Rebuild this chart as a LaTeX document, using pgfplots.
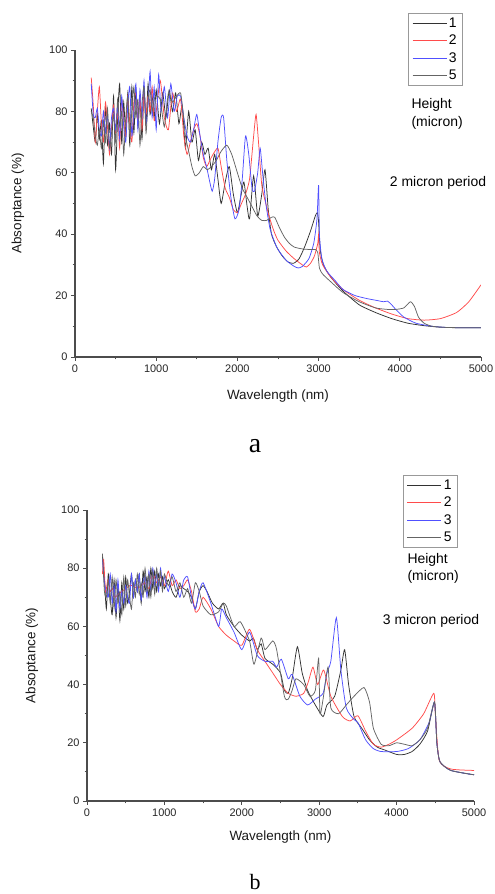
\documentclass[border=0pt]{standalone}
\usepackage{fontspec}
\setmainfont{Liberation Sans}
\newfontfamily\timesfont{Liberation Serif}
\usepackage{pgfplots}
\pgfplotsset{compat=1.18}

\definecolor{cone}{RGB}{50,50,50}
\definecolor{ctwo}{RGB}{255,75,75}
\definecolor{cthree}{RGB}{80,80,255}
\definecolor{cfive}{RGB}{100,100,100}

\pgfplotsset{
  curve/.style={draw=#1, line width=0.75bp, smooth, tension=0.35, no markers},
  panel/.style={
    scale only axis, axis lines*=left,
    xmin=0, xmax=5000, ymin=0, ymax=100,
    xtick={0,1000,...,5000}, ytick={0,20,...,100}, minor tick num=1,
    tick align=outside, major tick length=4bp, minor tick length=2.5bp,
    axis line style={black!70, line width=1.1bp},
    every tick/.style={black!70, line width=0.9bp},
    tick label style={font=\fontsize{11}{12}\selectfont, text=black!85},
    /pgf/number format/assume math mode=true,
    /pgf/number format/set thousands separator={},
    legend cell align=left,
    legend style={draw=black!40, line width=0.9bp, font=\fontsize{14}{16}\selectfont,
      inner xsep=4bp, inner ysep=2.5bp, row sep=2.2bp, anchor=north east},
    legend image code/.code={\draw[#1] (0bp,0bp) -- (34bp,0bp);},
  }
}

\begin{document}
\begin{tikzpicture}
\path[use as bounding box] (0,0) rectangle (495bp,894bp);

% ---------------- panel a ----------------
\begin{axis}[panel, at={(75bp,537bp)}, anchor=south west, width=406bp, height=307bp,
  xlabel={Wavelength (nm)}, ylabel={Absorptance (\%)},
  every axis x label/.style={at={(axis description cs:0.5,0)}, anchor=center, yshift=-39bp,
    font=\fontsize{13.5}{15}\selectfont, text=black!90},
  every axis y label/.style={at={(axis description cs:-0.1404,0.5)}, anchor=center, rotate=90,
    font=\fontsize{13.5}{15}\selectfont, text=black!90},
  legend style={at={(rel axis cs:0.956,1.1205)}}]
\addplot[curve=cone] coordinates {
(200,81) (225,75) (250,70) (275,79) (300,71) (325,77) (350,63) (375,82) (400,69) (425,76)
(450,66) (475,85) (500,61) (525,78) (550,89) (575,70) (600,83) (625,72) (650,86) (675,69)
(700,88) (725,73) (750,87) (775,75) (800,84) (825,71) (850,87) (875,76) (900,89) (925,79)
(950,85) (975,78) (1000,87) (1040,76) (1080,86) (1120,78) (1160,87) (1200,80) (1240,86) (1280,76)
(1320,82) (1360,68) (1400,80) (1440,70) (1480,74) (1520,64) (1560,70) (1600,66) (1640,68) (1680,61)
(1720,66) (1760,58) (1800,50) (1850,57) (1900,62) (1950,53) (2000,47) (2040,52) (2080,57) (2120,49)
(2150,45) (2200,59) (2250,46) (2300,53) (2340,61) (2380,48) (2420,40) (2480,36) (2550,33) (2620,31)
(2690,30.5) (2760,32) (2830,36) (2900,41) (2960,46) (2985,47) (3000,44) (3020,35) (3060,30) (3150,26)
(3300,21.5) (3500,17) (3700,14.5) (3900,12.5) (4100,11) (4300,10.2) (4500,9.7) (4750,9.5) (5000,9.5)};
\addlegendentry{1}
\addplot[curve=ctwo] coordinates {
(200,91) (225,82) (250,70) (275,80) (300,88) (325,76) (350,70) (375,83) (400,75) (425,66)
(450,75) (475,82) (500,73) (525,80) (550,68) (575,84) (600,77) (625,72) (650,85) (675,76)
(700,70) (725,83) (750,86) (775,76) (800,84) (825,74) (850,86) (875,79) (900,85) (925,80)
(950,88) (975,77) (1000,80) (1050,90) (1100,78) (1150,74) (1200,86) (1250,80) (1300,84) (1340,72)
(1380,66) (1420,70) (1460,74) (1500,76) (1540,72) (1580,65) (1620,62) (1660,64) (1700,66) (1760,68)
(1800,62) (1850,55) (1900,52) (1950,48) (2000,47) (2050,50) (2100,53) (2150,58) (2200,72) (2230,79)
(2260,70) (2300,56) (2350,50) (2400,45) (2450,41) (2500,38) (2600,34.5) (2700,32) (2800,30) (2850,29.3)
(2900,30.5) (2950,33) (2990,37) (3000,40) (3010,34) (3050,30) (3150,26) (3300,22) (3500,18.5) (3700,16)
(3900,14) (4100,12.5) (4300,12) (4500,12.5) (4700,14.5) (4850,18) (5000,23.5)};
\addlegendentry{2}
\addplot[curve=cthree] coordinates {
(200,89) (225,79) (250,78) (275,81) (300,74) (325,72) (350,80) (375,73) (400,79) (425,68)
(450,78) (475,81) (500,74) (525,82) (550,71) (575,85) (600,75) (625,70) (650,82) (675,88)
(700,72) (725,80) (750,89) (775,74) (800,87) (825,78) (850,90) (875,76) (900,82) (925,93)
(950,78) (975,88) (1000,74) (1030,92) (1060,80) (1100,88) (1140,78) (1180,89) (1220,80) (1260,85)
(1300,85) (1340,78) (1380,72) (1420,70) (1460,74) (1500,79) (1540,72) (1580,66) (1620,62) (1660,57)
(1690,54) (1720,58) (1760,70) (1800,78) (1830,78) (1870,64) (1920,52) (1970,45) (2020,48) (2060,58)
(2100,72) (2140,66) (2180,55) (2210,54) (2250,60) (2280,68) (2310,60) (2350,50) (2400,42) (2450,38)
(2500,35) (2600,31.5) (2700,29.5) (2750,29) (2800,29.5) (2880,32) (2940,37) (2980,45) (3000,56) (3010,40)
(3040,32) (3100,28) (3200,25) (3300,22) (3450,20) (3600,19) (3700,18.5) (3800,18) (3850,18.2) (3900,17)
(3950,15.5) (4050,13) (4200,11) (4400,10) (4600,9.6) (5000,9.5)};
\addlegendentry{3}
\addplot[curve=cfive] coordinates {
(200,80) (225,78) (250,72) (275,69) (300,74) (325,68) (350,77) (375,70) (400,81) (425,68)
(450,73) (475,79) (500,70) (525,84) (550,75) (575,80) (600,66) (625,78) (650,85) (675,72)
(700,80) (725,88) (750,78) (775,84) (800,69) (825,82) (850,88) (875,73) (900,84) (925,87)
(950,80) (975,84) (1000,85) (1050,84) (1100,75) (1150,86) (1200,83) (1250,85) (1300,86) (1330,80)
(1360,72) (1400,67) (1440,62) (1480,59) (1530,60) (1580,62) (1630,61) (1680,62) (1740,64) (1800,67)
(1870,69) (1930,66) (2000,60) (2060,55) (2120,52) (2180,49) (2240,46) (2300,44.5) (2360,44.5) (2420,45.5)
(2460,45.5) (2520,42) (2580,39) (2640,37) (2700,35.8) (2800,35.2) (2900,35) (2960,35) (2990,34) (3010,29)
(3050,27) (3150,24.5) (3300,21) (3500,18) (3700,16) (3850,15.5) (3950,15.5) (4050,16) (4130,18) (4180,16.5)
(4230,13) (4300,11) (4400,10) (4600,9.6) (5000,9.5)};
\addlegendentry{5}
\end{axis}

% ---------------- panel b ----------------
\begin{axis}[panel, at={(87bp,93bp)}, anchor=south west, width=387bp, height=291bp,
  xlabel={Wavelength (nm)}, ylabel={Absoptance (\%)},
  every axis x label/.style={at={(axis description cs:0.5,0)}, anchor=center, yshift=-36bp,
    font=\fontsize{13.5}{15}\selectfont, text=black!90},
  every axis y label/.style={at={(axis description cs:-0.1421,0.5)}, anchor=center, rotate=90,
    font=\fontsize{13.5}{15}\selectfont, text=black!90},
  legend style={at={(rel axis cs:0.9587,1.1203)}}]
\addplot[curve=cone] coordinates {
(200,84) (225,76) (250,66) (275,78) (300,70) (325,64) (350,76) (375,63) (400,74) (425,62)
(450,75) (475,66) (500,77) (525,68) (550,72) (575,78) (600,70) (625,76) (650,72) (675,78)
(700,68) (725,79) (750,72) (775,77) (800,70) (825,80) (850,73) (875,79) (900,72) (925,78)
(950,74) (975,77) (1000,73) (1050,76) (1100,72) (1150,70) (1200,74) (1250,73) (1300,72) (1350,70)
(1400,66) (1450,72) (1500,74) (1550,72) (1620,68) (1700,66) (1760,68) (1800,64) (1900,60) (2000,57)
(2100,55) (2150,56) (2200,52) (2250,54) (2300,49) (2400,47) (2500,44) (2550,38) (2600,37) (2650,42)
(2718,53) (2780,44) (2850,38) (2950,33) (3050,29) (3100,33) (3200,36) (3280,45) (3329,52) (3380,40)
(3450,29) (3550,25) (3650,21) (3750,18.5) (3850,17.5) (4000,16) (4100,16) (4200,17) (4300,19.5) (4400,24)
(4490,34) (4520,20) (4560,13.5) (4700,10.5) (5000,9)};
\addlegendentry{1}
\addplot[curve=ctwo] coordinates {
(200,78) (215,83) (240,72) (270,76) (300,72) (330,73) (360,70) (400,71) (450,72) (500,73)
(550,74) (600,74) (650,73) (700,74) (750,75) (800,73) (850,78) (900,75) (950,77) (1000,74)
(1050,79) (1100,74) (1150,76) (1200,73) (1250,74) (1300,76) (1350,72) (1400,65) (1450,66) (1500,70)
(1600,66) (1700,60) (1800,57) (1900,55) (2000,53.5) (2100,59) (2200,52) (2317,47.3) (2400,44) (2500,40)
(2600,37) (2700,36) (2800,37) (2860,41) (2920,46) (2980,40) (3058,45) (3150,36) (3300,29) (3400,27.5)
(3500,29.3) (3600,24) (3700,19.5) (3800,18.5) (3900,19.5) (4000,21) (4200,25) (4350,30) (4480,37) (4500,30)
(4550,14) (4700,11) (5000,10.5)};
\addlegendentry{2}
\addplot[curve=cthree] coordinates {
(200,83) (225,75) (250,72) (275,70) (300,78) (325,68) (350,74) (375,65) (400,76) (425,66)
(450,72) (475,68) (500,74) (525,70) (550,68) (575,78) (600,70) (625,76) (650,72) (675,78)
(700,69) (725,75) (750,78) (775,70) (800,79) (825,72) (850,80) (875,74) (900,78) (925,72)
(950,80) (975,74) (1000,77) (1050,72) (1100,78) (1150,75) (1200,70) (1250,76) (1300,77) (1350,70)
(1400,66) (1450,72) (1500,75) (1600,68) (1700,60) (1740,66) (1800,63) (1900,58) (2000,52) (2100,58)
(2200,50) (2300,48) (2400,48) (2450,46) (2511,48.7) (2600,42) (2650,43.5) (2750,36) (2850,33) (2950,35)
(3050,37) (3100,44) (3150,48) (3222,63) (3280,45) (3350,32) (3450,28) (3500,27) (3600,21) (3700,18)
(3800,17) (4000,17) (4150,18) (4300,21) (4420,27) (4490,34) (4520,20) (4560,13.5) (4700,10.5) (5000,9)};
\addlegendentry{3}
\addplot[curve=cfive] coordinates {
(200,85) (225,72) (250,70) (275,76) (300,68) (325,77) (350,66) (375,76) (400,68) (425,72)
(450,64) (475,77) (500,67) (525,76) (550,70) (575,66) (600,75) (625,70) (650,78) (675,71)
(700,75) (725,70) (750,80) (775,72) (800,78) (825,70) (850,79) (875,71) (900,80) (925,74)
(950,79) (975,72) (1000,78) (1050,74) (1100,77) (1150,72) (1200,75) (1250,70) (1300,73) (1350,68)
(1400,75) (1450,72) (1500,67) (1600,64) (1700,65) (1760,68) (1800,67) (1900,60) (1981,61.6) (2100,55)
(2158,47) (2250,56) (2300,52) (2400,55) (2450,52) (2550,36) (2600,35) (2650,38) (2700,42) (2800,40)
(2880,36) (2950,38) (2993,49) (3010,30) (3050,35) (3114,46) (3150,32) (3250,30) (3350,33) (3450,36)
(3579,39) (3650,34) (3700,25) (3800,19.5) (3900,19) (4000,20) (4100,19.5) (4200,19) (4300,21) (4400,25)
(4490,34) (4520,20) (4560,13.5) (4700,10.5) (5000,9)};
\addlegendentry{5}
\end{axis}

% annotations
\node[anchor=west, font=\fontsize{14}{16}\selectfont] at (408bp,789bp) {Height};
\node[anchor=west, font=\fontsize{14}{16}\selectfont] at (408bp,771bp) {(micron)};
\node[font=\fontsize{14}{16}\selectfont] at (438bp,711bp) {2 micron period};
\node[font=\timesfont\fontsize{28}{30}\selectfont] at (255bp,448bp) {a};

\node[anchor=west, font=\fontsize{14}{16}\selectfont] at (404bp,334bp) {Height};
\node[anchor=west, font=\fontsize{14}{16}\selectfont] at (404bp,317bp) {(micron)};
\node[font=\fontsize{14}{16}\selectfont] at (431bp,273bp) {3 micron period};
\node[font=\timesfont\fontsize{22}{24}\selectfont] at (255bp,12bp) {b};
\end{tikzpicture}
\end{document}
